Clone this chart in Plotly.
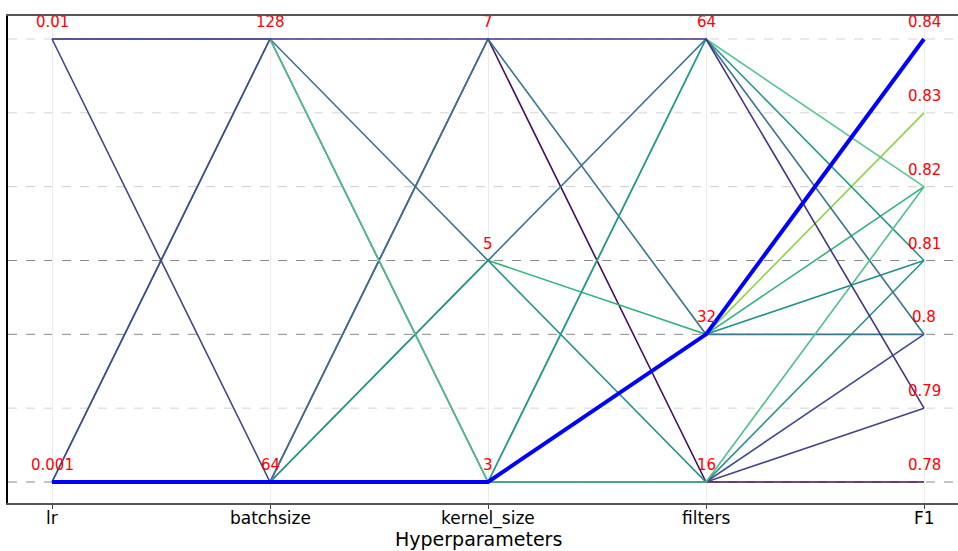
import plotly.graph_objects as go

# ---- data (one entry per run, drawn in this order) ----
dims = ["lr", "batchsize", "kernel_size", "filters", "F1"]
lr = [0.001, 0.001, 0.001, 0.001, 0.001, 0.001, 0.001, 0.001, 0.001, 0.001, 0.01, 0.01, 0.01, 0.001]
batchsize = [64, 64, 64, 64, 64, 64, 64, 64, 128, 128, 64, 128, 128, 64]
kernel_size = [7, 7, 3, 3, 5, 5, 3, 3, 5, 3, 3, 3, 7, 3]
filters = [16, 32, 32, 32, 32, 16, 64, 64, 64, 16, 16, 16, 64, 32]
f1 = [0.78, 0.80, 0.83, 0.81, 0.82, 0.81, 0.82, 0.81, 0.80, 0.80, 0.79, 0.82, 0.79, 0.84]
run_colors = ["#440e5e", "#3c768e", "#8fd344", "#21918c", "#33b27c", "#2a918b", "#5cc592",
              "#25978b", "#3b738e", "#3f4c8a", "#424687", "#4fc08a", "#46337f", "blue"]
f1_ticks = [0.78, 0.79, 0.80, 0.81, 0.82, 0.83, 0.84]
f1_tick_labels = ["0.78", "0.79", "0.8", "0.81", "0.82", "0.83", "0.84"]

columns = [lr, batchsize, kernel_size, filters, f1]
ranges = [(min(c), max(c)) for c in columns]
ranges[4] = (min(f1_ticks), max(f1_ticks))


def norm(v, i):
    lo, hi = ranges[i]
    return (v - lo) / (hi - lo)


fig = go.Figure()
best = f1.index(max(f1))
n = len(f1)
for r in range(n):
    ys = [norm(columns[i][r], i) for i in range(5)]
    fig.add_trace(go.Scatter(
        x=list(range(5)), y=ys, mode="lines",
        line=dict(color=run_colors[r], width=4 if r == best else 1.6),
        showlegend=False, hoverinfo="skip"))

# horizontal dashed grid at F1 levels (top to bottom)
grid_cols = ["#d4d4d4", "#d4d4d4", "#cccccc", "#8a8a8a", "#8a8a8a", "#d4d4d4", "#8a8a8a"]
shapes = []
for j, t in enumerate(reversed(f1_ticks)):
    yv = norm(t, 4)
    shapes.append(dict(type="line", xref="paper", yref="y", x0=0, x1=1, y0=yv, y1=yv,
                       line=dict(color=grid_cols[j], width=1, dash="dash"), layer="below"))

# red value labels
lab_font = dict(color="red", size=15, family="DejaVu Sans")
annotations = []
for i in range(4):
    for v in sorted(set(columns[i])):
        annotations.append(dict(x=i, y=norm(v, i), text=str(v), showarrow=False,
                                yshift=17, font=lab_font))
for t, lab in zip(f1_ticks, f1_tick_labels):
    annotations.append(dict(x=4, y=norm(t, 4), text=lab, showarrow=False, yshift=17,
                            font=lab_font))
# axis (dimension) labels
for i, name in enumerate(dims):
    annotations.append(dict(x=i, xref="x", yref="paper", y=0, yshift=-15, yanchor="middle",
                            text=name, showarrow=False,
                            font=dict(size=17, family="DejaVu Sans", color="black")))
annotations.append(dict(xref="paper", yref="paper", x=0.5 - 5 / 950, y=0, yshift=-36,
                        yanchor="middle", text="Hyperparameters", showarrow=False,
                        font=dict(size=19, family="DejaVu Sans", color="black")))

fig.update_layout(
    width=958, height=551,
    margin=dict(l=8, r=0, t=16, b=48),
    plot_bgcolor="white", paper_bgcolor="white",
    font=dict(family="DejaVu Sans", color="black"),
    shapes=shapes, annotations=annotations,
    xaxis=dict(range=[-44 / 218, 4 + 34 / 218], tickvals=list(range(5)),
               showticklabels=False, ticks="outside", ticklen=4, tickcolor="#444",
               showgrid=True, gridcolor="#ececec", gridwidth=1, zeroline=False,
               showline=True, linecolor="#555", linewidth=1.5, mirror=True,
               automargin=False),
    yaxis=dict(range=[-21 / 443, 1 + 23 / 443], showticklabels=False, showgrid=False,
               zeroline=False, showline=True, linecolor="black", linewidth=1.5, ticks="",
               automargin=False),
)

fig.write_html("out.html", config={"displayModeBar": False},
               post_script="document.body.style.margin='0px';document.body.style.overflow='hidden';")
